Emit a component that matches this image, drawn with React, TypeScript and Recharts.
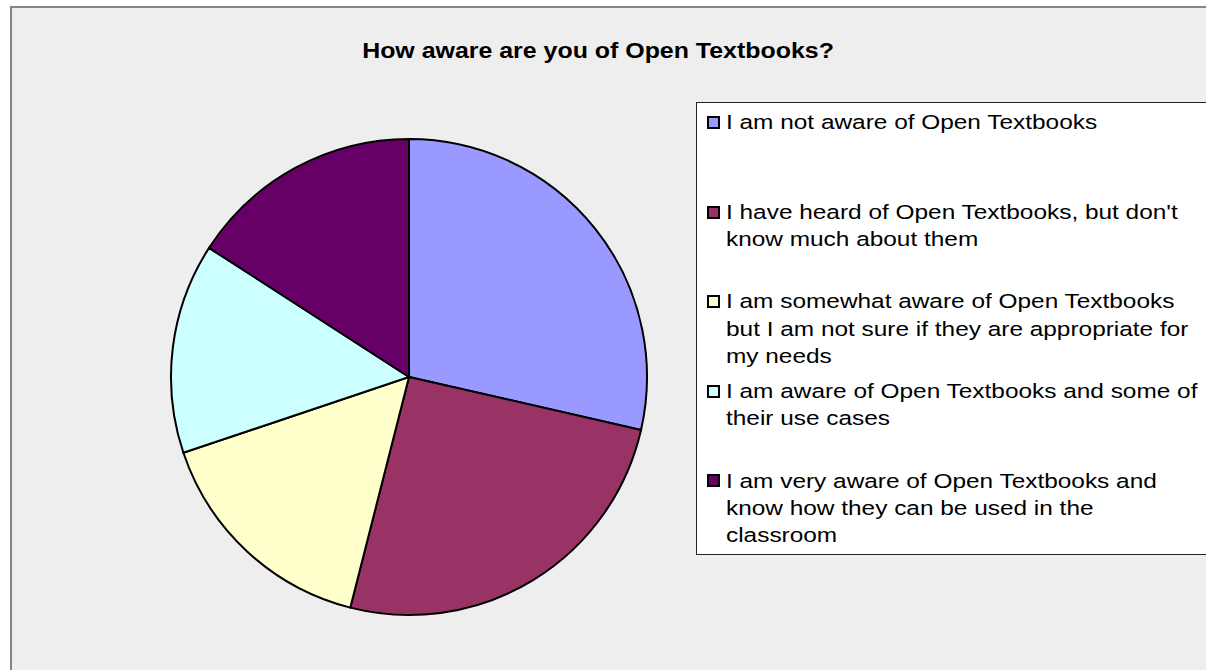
import { Cell, Legend, Pie, PieChart } from "recharts";

const categories = [
  "I am not aware of Open Textbooks",
  "I have heard of Open Textbooks, but don't know much about them",
  "I am somewhat aware of Open Textbooks but I am not sure if they are appropriate for my needs",
  "I am aware of Open Textbooks and some of their use cases",
  "I am very aware of Open Textbooks and know how they can be used in the classroom",
];
const legendLabels = [
  "I am not aware of Open Textbooks",
  "I have heard of Open Textbooks, but don't\nknow much about them",
  "I am somewhat aware of Open Textbooks\nbut I am not sure if they are appropriate for\nmy needs",
  "I am aware of Open Textbooks and some of\ntheir use cases",
  "I am very aware of Open Textbooks and\nknow how they can be used in the\nclassroom",
];
const responses = [18, 16, 10, 9, 10];
const colors = ["#9999ff", "#993366", "#ffffcc", "#ccffff", "#660066"];
const title = "How aware are you of Open Textbooks?";

const data = categories.map((name, i) => ({ name, value: responses[i] }));

const font = "'Liberation Sans', Arial, sans-serif";

// the source text is a bit stretched sideways
const stretch = 1.19;

function LegendBox() {
  return (
    <div
      style={{
        position: "absolute",
        left: 696,
        top: 102,
        width: 530,
        height: 451,
        background: "#fff",
        border: "1px solid #222",
        fontFamily: font,
        fontSize: 20.5,
        color: "#000",
      }}
    >
      {legendLabels.map((label, i) => {
        const baseline = 129 + i * 89.6;
        return (
          <div key={i}>
            <div
              style={{
                position: "absolute",
                left: 707 - 697,
                top: baseline - 13 - 103,
                width: 9,
                height: 9,
                background: colors[i],
                border: "2px solid #000",
              }}
            />
            <div
              style={{
                position: "absolute",
                left: 726 - 697,
                top: baseline - 20.85 - 103,
                lineHeight: "27.3px",
                whiteSpace: "pre",
                transform: `scaleX(${stretch})`,
                transformOrigin: "0 0",
              }}
            >
              {label}
            </div>
          </div>
        );
      })}
    </div>
  );
}

export default function App() {
  return (
    <div style={{ position: "absolute", left: 0, top: 0, width: 1206, height: 670, background: "#fff", overflow: "hidden" }}>
      <div
        style={{
          position: "absolute",
          left: 10,
          top: 6,
          width: 1300,
          height: 800,
          background: "#eeeeee",
          borderTop: "2px solid #858585",
          borderLeft: "2px solid #858585",
        }}
      />
      <div style={{ position: "absolute", left: 0, top: 0 }}>
        <PieChart width={1206} height={670} margin={{ top: 0, right: 0, bottom: 0, left: 0 }}>
          <text
            transform="translate(598,58) scale(1.16,1)"
            x={0}
            y={0}
            textAnchor="middle"
            fontFamily={font}
            fontSize={21.5}
            fontWeight="bold"
            fill="#000"
          >
            {title}
          </text>
          <Pie
            data={data}
            dataKey="value"
            nameKey="name"
            cx={409}
            cy={377}
            outerRadius={238}
            startAngle={90}
            endAngle={-270}
            stroke="#000"
            strokeWidth={2}
            isAnimationActive={false}
          >
            {data.map((_, i) => (
              <Cell key={i} fill={colors[i]} />
            ))}
          </Pie>
          <Legend
            content={() => <LegendBox />}
            wrapperStyle={{ position: "absolute", left: 0, top: 0, width: 1206, height: 670 }}
          />
        </PieChart>
      </div>
    </div>
  );
}
